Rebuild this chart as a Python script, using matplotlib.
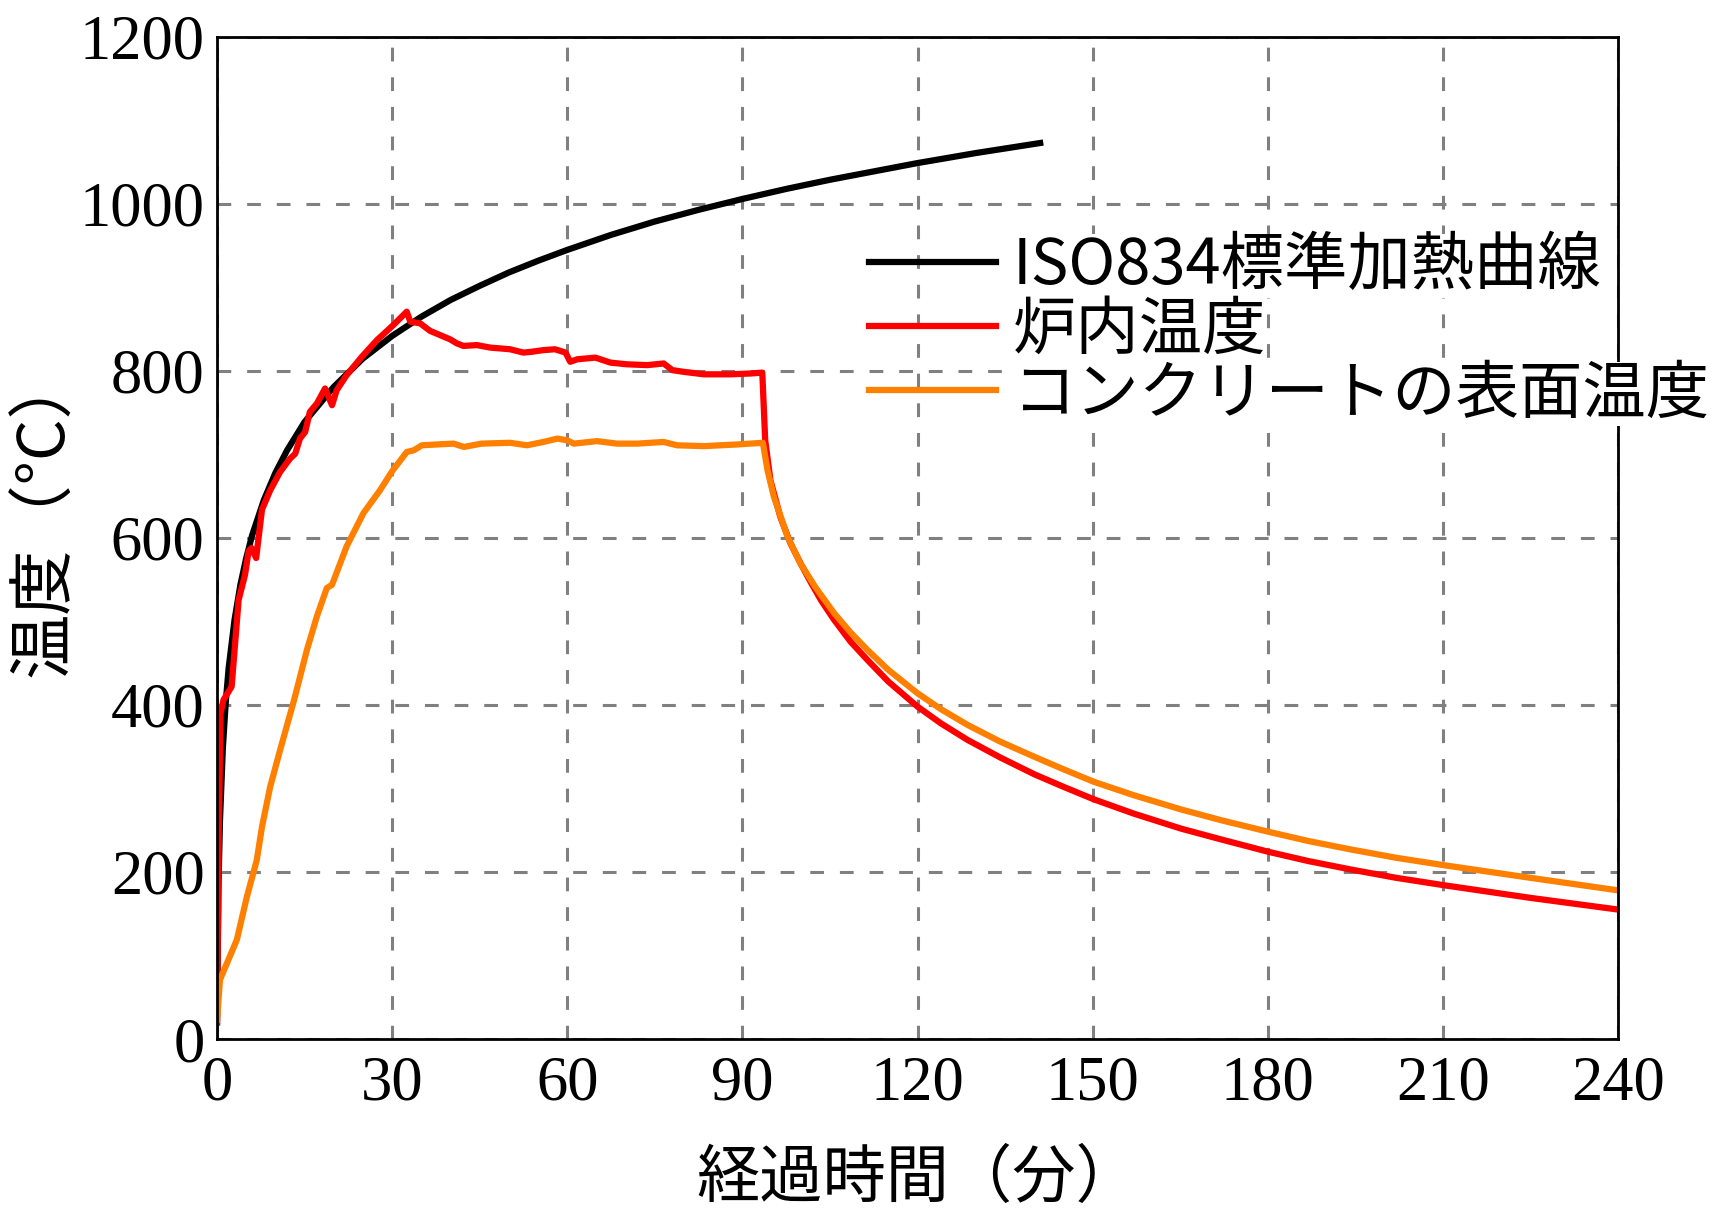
import matplotlib
matplotlib.use('Agg')
import matplotlib.pyplot as plt

# ISO834 standard heating curve
iso_t = [0, 0.25, 0.5, 1, 1.5, 2, 3, 4, 5, 6, 8, 10, 12, 15, 20, 25, 30, 35, 40,
         45, 50, 55, 60, 67.5, 75, 82.5, 90, 97.5, 105, 112.5, 120, 130, 141]
iso_T = [20, 185, 261, 349, 404, 445, 502, 544, 576, 603, 645, 678, 705, 739, 781,
         815, 842, 865, 885, 902, 918, 932, 945, 963, 979, 993, 1006, 1018, 1029,
         1039, 1049, 1061, 1073]

# furnace temperature
furnace_t = [0, 0.3, 0.6, 1.1, 2.5, 3.7, 4.8, 5.4, 5.9, 6.7, 7.7, 9.1, 10.8, 12.5,
             13.4, 14.2, 15.1, 15.9, 17.1, 18.5, 19.7, 20.5, 22.2, 24.8, 27.4, 30.2,
             32.5, 33.1, 34.8, 36.5, 38.2, 39.9, 41.1, 42.2, 44.5, 46.8, 50.2, 52.5,
             53.9, 55.9, 57.9, 59.7, 60.5, 61.7, 64.8, 67.4, 70.2, 73.7, 76.5, 78.0,
             79.9, 83.4, 88.0, 91.4, 93.4, 93.9, 94.8, 96.5, 98.2, 100, 101.7,
             103.5, 105.7, 108.5, 111.4, 115, 120, 124, 128.6, 134.2, 140, 145,
             150.2, 157, 165.1, 172, 180.2, 187, 194.2, 202, 210.3, 225, 240]
furnace_T = [20, 250, 390, 406, 422, 526, 556, 584, 588, 576, 634, 657, 679, 695,
             701, 719, 727, 751, 761, 779, 759, 777, 795, 817, 837, 855,
             871, 859, 857, 848, 843, 838, 833, 830, 831, 828, 826, 822,
             823, 825, 826, 822, 811, 814, 816, 810, 808, 807, 809, 801,
             799, 796, 796, 797, 798, 717, 669, 625, 594, 569, 547,
             525, 502, 476, 454, 428, 398, 378, 358, 337, 317, 302,
             287, 270, 252, 239, 224, 213, 203, 193, 184, 169, 155]

# concrete surface temperature
surface_t = [0, 0.5, 2.2, 3.4, 5.1, 6.8, 7.7, 9.1, 10.8, 13.2, 15.4, 17.1, 18.8,
             19.7, 22.2, 25.1, 27.9, 30, 32.5, 33.7, 35.1, 37.7, 40.5, 42.3, 45.3,
             50.2, 53.1, 55.9, 58.3, 60.0, 61.1, 65.1, 68.5, 72.0, 76.5, 78.8, 83.4,
             89.1, 93.5, 94.3, 95.4, 97.7, 99.9, 102.5, 105.7, 108.5, 111.4, 115,
             120, 124, 128.6, 134.2, 140, 145, 150.2, 157, 165.1, 172, 180.2, 187,
             194.2, 202, 210.3, 225, 240]
surface_T = [23, 71, 99, 119, 170, 214, 254, 302, 346, 406, 466, 506, 540,
             544, 590, 630, 657, 680, 703, 705, 711, 712, 713, 709, 713,
             714, 711, 715, 719, 717, 713, 716, 713, 713, 715, 711, 710,
             712, 714, 681, 649, 602, 570, 541, 510, 487, 466, 442,
             414, 395, 376, 356, 338, 323, 308, 292, 275, 262, 248, 237,
             227, 217, 208, 193, 178]

labels = ['ISO834標準加熱曲線', '炉内温度', 'コンクリートの表面温度']
colors = ['black', '#ff0000', '#ff8000']
x_ticks = [0, 30, 60, 90, 120, 150, 180, 210, 240]
y_ticks = [0, 200, 400, 600, 800, 1000, 1200]

jp = ['Noto Sans CJK JP', 'DejaVu Sans']
serif = 'Liberation Serif'

fig = plt.figure(figsize=(17.13, 12.08), dpi=100)
ax = fig.add_axes([0.1267, 0.1399, 0.8179, 0.8295])

ax.plot(iso_t, iso_T, color=colors[0], lw=4.5, label=labels[0], solid_joinstyle='round')
ax.plot(furnace_t, furnace_T, color=colors[1], lw=4.5, label=labels[1], solid_joinstyle='round')
ax.plot(surface_t, surface_T, color=colors[2], lw=4.5, label=labels[2], solid_joinstyle='round')

ax.set_xlim(0, 240)
ax.set_ylim(0, 1200)
ax.set_xticks(x_ticks)
ax.set_yticks(y_ticks)
ax.tick_params(length=0, labelsize=45)
ax.tick_params(axis='y', pad=9)
ax.tick_params(axis='x', pad=12)
for lab in ax.get_xticklabels() + ax.get_yticklabels():
    lab.set_fontfamily(serif)

ax.grid(True, color='#808080', lw=2.2, linestyle=(0, (4.5, 5.2)))
for sp in ax.spines.values():
    sp.set_linewidth(2)
    sp.set_color('black')

ax.set_xlabel('経過時間（分）', fontsize=45.5, family=jp, labelpad=24)
ax.set_ylabel('温度（°C）', fontsize=47, family=jp, labelpad=1)
ax.yaxis.label.set_y(0.524)

leg = ax.legend(loc='upper left', bbox_to_anchor=(0.4654, 0.803), frameon=False,
                prop={'family': jp, 'size': 45.6}, handlelength=2.0,
                handletextpad=0.27, labelspacing=0.0, borderpad=0,
                borderaxespad=0)
for txt in leg.get_texts():
    txt.set_bbox(dict(facecolor='white', edgecolor='none', pad=0))

fig.savefig('out.png', dpi=100)
